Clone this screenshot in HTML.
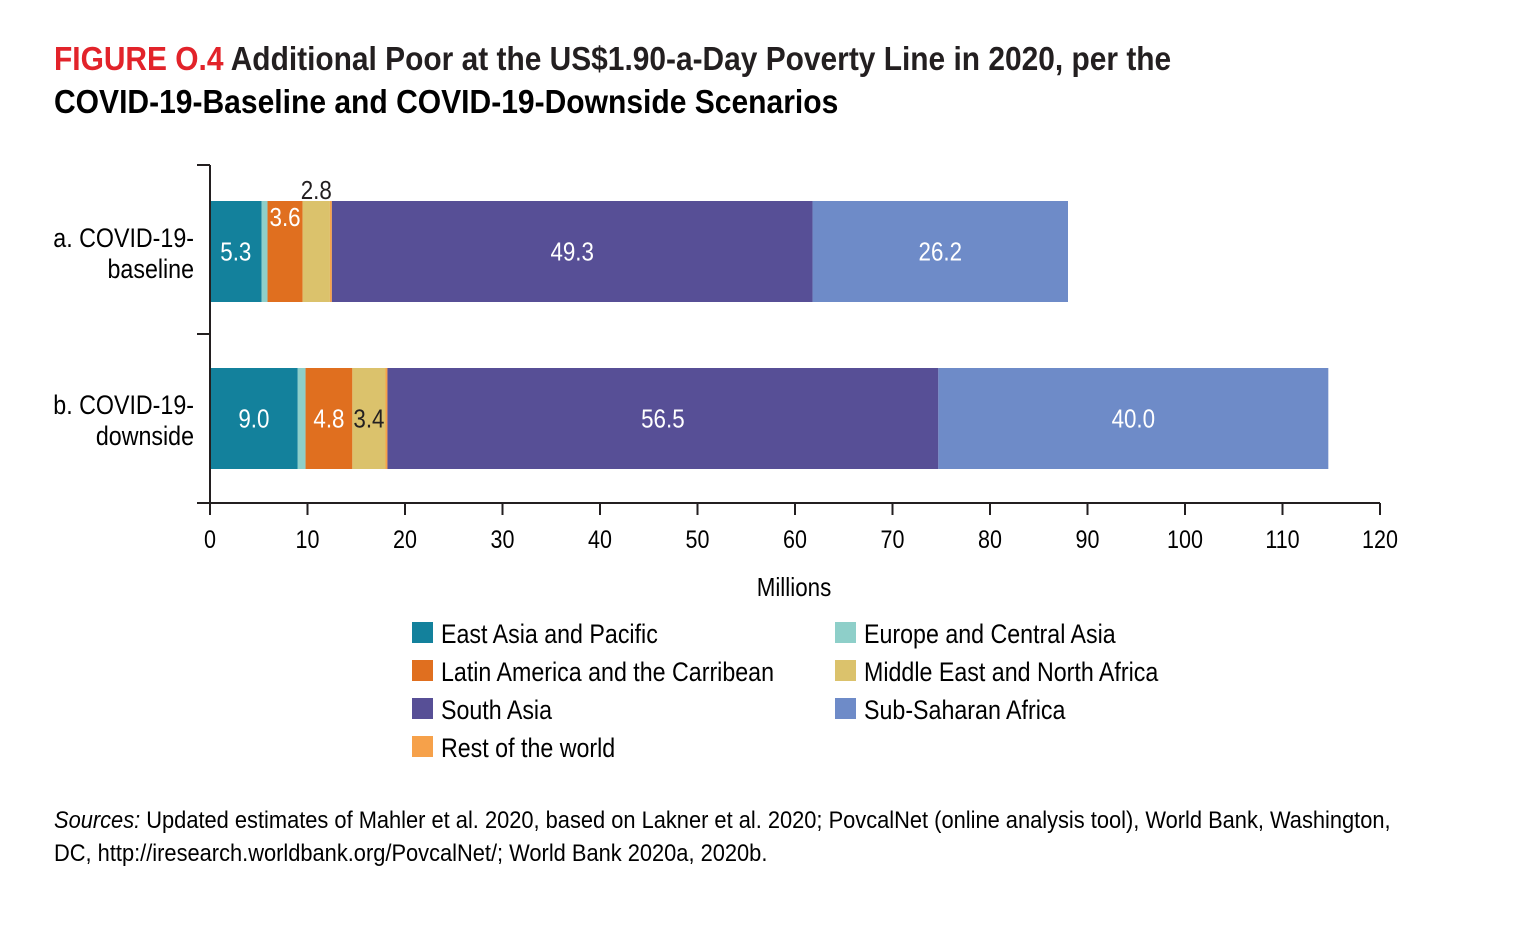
<!DOCTYPE html>
<html><head><meta charset="utf-8"><style>
body{margin:0;background:#fff;width:1522px;height:942px;overflow:hidden;font-family:"Liberation Sans",sans-serif;color:#231f20}
svg text{font-family:"Liberation Sans",sans-serif}
</style></head><body>
<svg id="chart" width="1522" height="942">
<text x="54" y="70" font-size="33" font-weight="bold" data-sx="0.912"><tspan fill="#e2232a">FIGURE O.4</tspan><tspan fill="#231f20" dx="8">Additional Poor at the US$1.90-a-Day Poverty Line in 2020, per the</tspan></text>
<text x="54" y="113" font-size="33" font-weight="bold" data-sx="0.91">COVID-19-Baseline and COVID-19-Downside Scenarios</text>
<g id="bars"></g>
<g id="axes"></g>
<text x="794" y="596" font-size="26" text-anchor="middle">Millions</text>
<g id="legend"></g>
<text x="54" y="828" font-size="24" data-sx="0.91"><tspan font-style="italic">Sources:</tspan> Updated estimates of Mahler et al. 2020, based on Lakner et al. 2020; PovcalNet (online analysis tool), World Bank, Washington,</text>
<text x="54" y="861" font-size="24" data-sx="0.91">DC, http://iresearch.worldbank.org/PovcalNet/; World Bank 2020a, 2020b.</text>
</svg>
<script>
const scenarios=["a. COVID-19-|baseline","b. COVID-19-|downside"];
const segOrder=["East Asia and Pacific","Europe and Central Asia","Latin America and the Carribean","Middle East and North Africa","Rest of the world","South Asia","Sub-Saharan Africa"];
const baselineVals=[5.3,0.6,3.6,2.8,0.2,49.3,26.2];
const downsideVals=[9.0,0.8,4.8,3.4,0.2,56.5,40.0];
const baselineLabels=["5.3","","3.6","2.8","","49.3","26.2"];
const downsideLabels=["9.0","","4.8","3.4","","56.5","40.0"];
const xTicks=[0,10,20,30,40,50,60,70,80,90,100,110,120];
const colors={"East Asia and Pacific":"#13819c","Europe and Central Asia":"#8ecfc9","Latin America and the Carribean":"#e06f1f","Middle East and North Africa":"#dbc26c","South Asia":"#574f96","Sub-Saharan Africa":"#6e8bc8","Rest of the world":"#f6a14a"};
const X0=210,X1=1380,xMax=120;
const x=v=>X0+(X1-X0)*v/xMax;
const rowTop=[201,368],barH=101;
const NS="http://www.w3.org/2000/svg";
function mk(t,a,p){const e=document.createElementNS(NS,t);for(const k in a)e.setAttribute(k,a[k]);p.appendChild(e);return e;}
const bars=document.getElementById('bars'),axes=document.getElementById('axes'),legend=document.getElementById('legend');
[[baselineVals,baselineLabels],[downsideVals,downsideLabels]].forEach((pair,r)=>{
  let cum=0;const [vals,labs]=pair;const y=rowTop[r];
  segOrder.forEach((name,i)=>{
    const v=vals[i];
    const rc=mk('rect',{x:x(cum),y:y,width:x(cum+v)-x(cum),height:barH,fill:colors[name]},bars);
    
    
    const lab=labs[i];
    if(lab){
      let tx=(x(cum)+x(cum+v))/2,ty=y+barH/2+9,fill='#fff';
      if(name==="Middle East and North Africa"){fill='#231f20'; if(r===0){ty=y-2;} }
      if(name==="Latin America and the Carribean"&&r===0){ty=y+25;}
      const t=mk('text',{x:tx,y:ty,'text-anchor':'middle','font-size':26,fill:fill},bars);
      t.textContent=lab;
      
      
    }
    cum+=v;
  });
});
mk('line',{x1:X0,y1:165,x2:X0,y2:503,stroke:'#231f20','stroke-width':2},axes);
[165,334,503].forEach(y=>mk('line',{x1:197,y1:y,x2:X0,y2:y,stroke:'#231f20','stroke-width':2},axes));
mk('line',{x1:X0,y1:503,x2:X1,y2:503,stroke:'#231f20','stroke-width':2},axes);
xTicks.forEach(v=>{
  mk('line',{x1:x(v),y1:503,x2:x(v),y2:515,stroke:'#231f20','stroke-width':2},axes);
  const t=mk('text',{x:x(v),y:548,'text-anchor':'middle','font-size':25},axes);
  t.textContent=v;
  
  
});
scenarios.forEach((s,r)=>{
  s.split('|').forEach((p,j)=>{
    const t=mk('text',{x:194,y:rowTop[r]+46+j*31,'text-anchor':'end','font-size':27},axes);
    t.textContent=p;
    
    
  });
});
const legItems=["East Asia and Pacific","Europe and Central Asia","Latin America and the Carribean","Middle East and North Africa","South Asia","Sub-Saharan Africa","Rest of the world"];
legItems.forEach((n,i)=>{
  const lx=i%2?835:412,ly=622+Math.floor(i/2)*38;
  const g=mk('g',{},legend);
  
  
  mk('rect',{x:lx,y:ly,width:21,height:21,fill:colors[n]},g);
  const t=mk('text',{x:lx+29,y:ly+21,'font-size':27,'data-sx':0.86},g);
  t.textContent=n;
});
document.querySelectorAll('svg text').forEach(t=>{
  const sx=parseFloat(t.getAttribute('data-sx')||'0.86');
  const L=t.getComputedTextLength();
  t.setAttribute('textLength',(L*sx).toFixed(1));
  t.setAttribute('lengthAdjust','spacingAndGlyphs');
});
</script>
</body></html>
